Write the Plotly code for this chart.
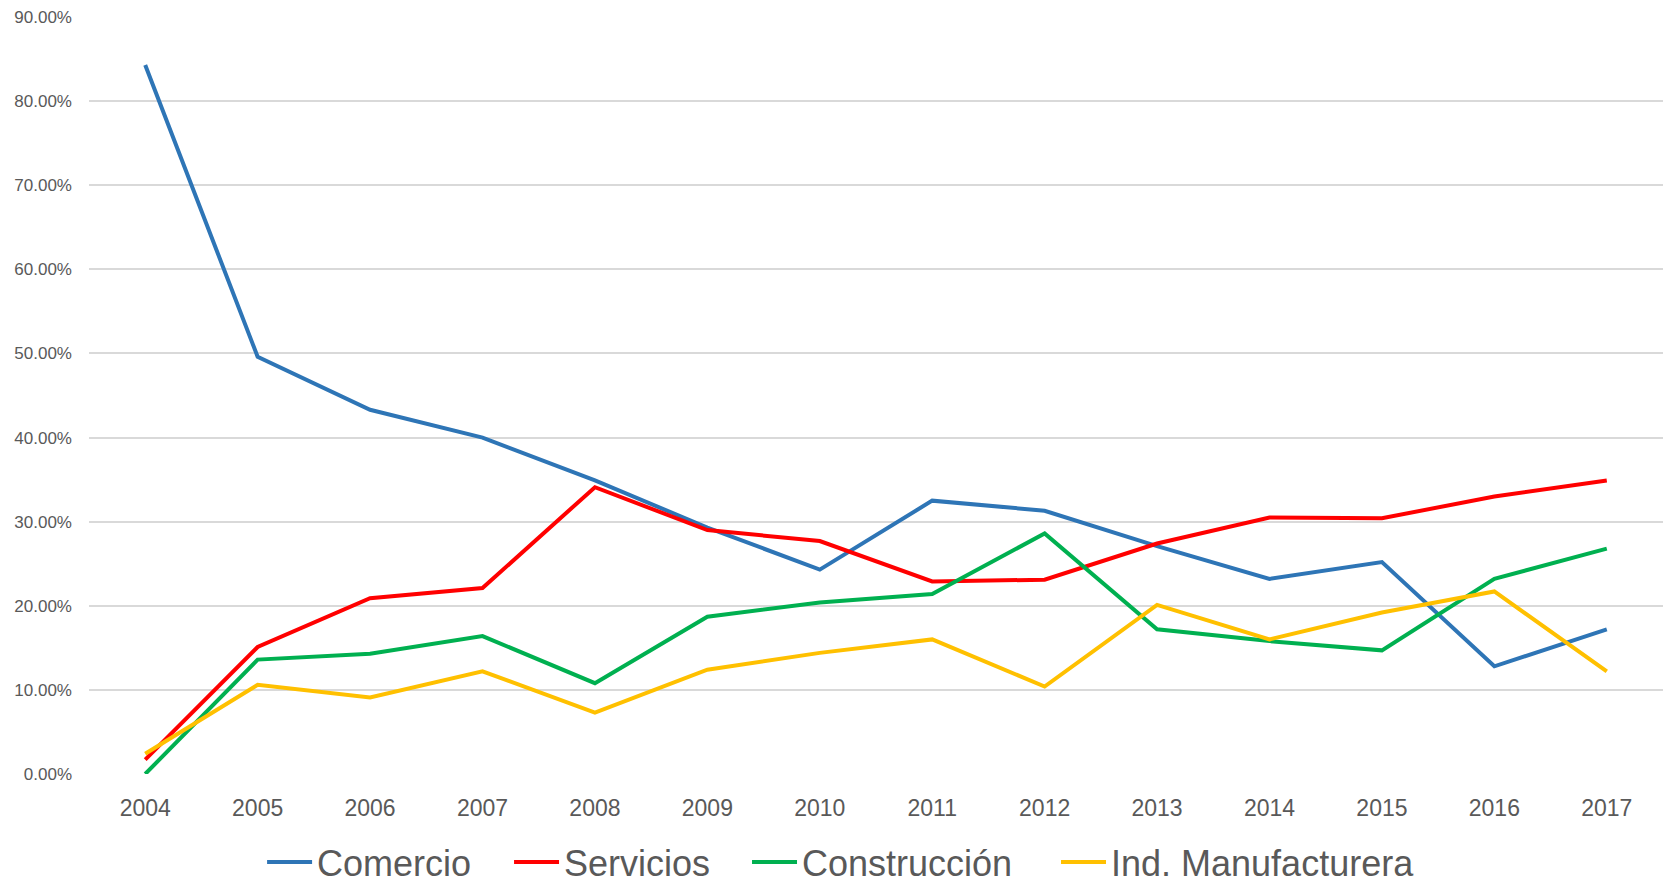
import plotly.graph_objects as go

years = ["2004", "2005", "2006", "2007", "2008", "2009", "2010",
         "2011", "2012", "2013", "2014", "2015", "2016", "2017"]
comercio = [84.3, 49.6, 43.3, 40.0, 34.9, 29.3, 24.3, 32.5, 31.3, 27.1, 23.2, 25.2, 12.8, 17.2]
servicios = [1.7, 15.1, 20.9, 22.1, 34.1, 29.0, 27.7, 22.9, 23.1, 27.4, 30.5, 30.4, 33.0, 34.9]
construccion = [0.0, 13.6, 14.3, 16.4, 10.8, 18.7, 20.4, 21.4, 28.6, 17.2, 15.8, 14.7, 23.2, 26.8]
manufacturera = [2.4, 10.6, 9.1, 12.2, 7.3, 12.4, 14.4, 16.0, 10.4, 20.1, 16.0, 19.2, 21.7, 12.2]

series = [
    ("Comercio", comercio, "#2E75B6", "legend", 0.1576),
    ("Servicios", servicios, "#FF0000", "legend2", 0.3061),
    ("Construcción", construccion, "#00B050", "legend3", 0.4492),
    ("Ind. Manufacturera", manufacturera, "#FFC000", "legend4", 0.6350),
]

FONT = "Liberation Sans, Arial, sans-serif"
GRAY = "#595959"

fig = go.Figure()
layout_legends = {}
for name, vals, color, lg, lx in series:
    fig.add_trace(go.Scatter(
        x=years, y=[v / 100 for v in vals], name=name, mode="lines",
        line=dict(color=color, width=4), legend=lg,
    ))
    layout_legends[lg] = dict(
        x=lx, xref="container", xanchor="left",
        y=0.0249, yref="container", yanchor="middle",
        orientation="h", bgcolor="rgba(0,0,0,0)", borderwidth=0,
        font=dict(family=FONT, size=36, color=GRAY), itemwidth=45,
    )

fig.update_layout(
    width=1663, height=884,
    margin=dict(l=89, r=0, t=17, b=110),
    paper_bgcolor="white", plot_bgcolor="white",
    showlegend=True,
    xaxis=dict(
        type="category", range=[-0.5, 13.5], showgrid=False, zeroline=False,
        showline=False, ticks="", tickfont=dict(family=FONT, size=23, color=GRAY),
        ticklabelstandoff=18,
    ),
    yaxis=dict(
        range=[0, 0.9], dtick=0.1, tick0=0, tickformat=".2%",
        showgrid=True, gridcolor="#D9D9D9", gridwidth=2, zeroline=False,
        showline=False, ticks="", tickfont=dict(family=FONT, size=17, color=GRAY),
        ticklabelstandoff=16,
    ),
    **layout_legends,
)

fig.write_html("out.html", config={"displayModeBar": False},
               post_script="document.body.style.margin='0';")
